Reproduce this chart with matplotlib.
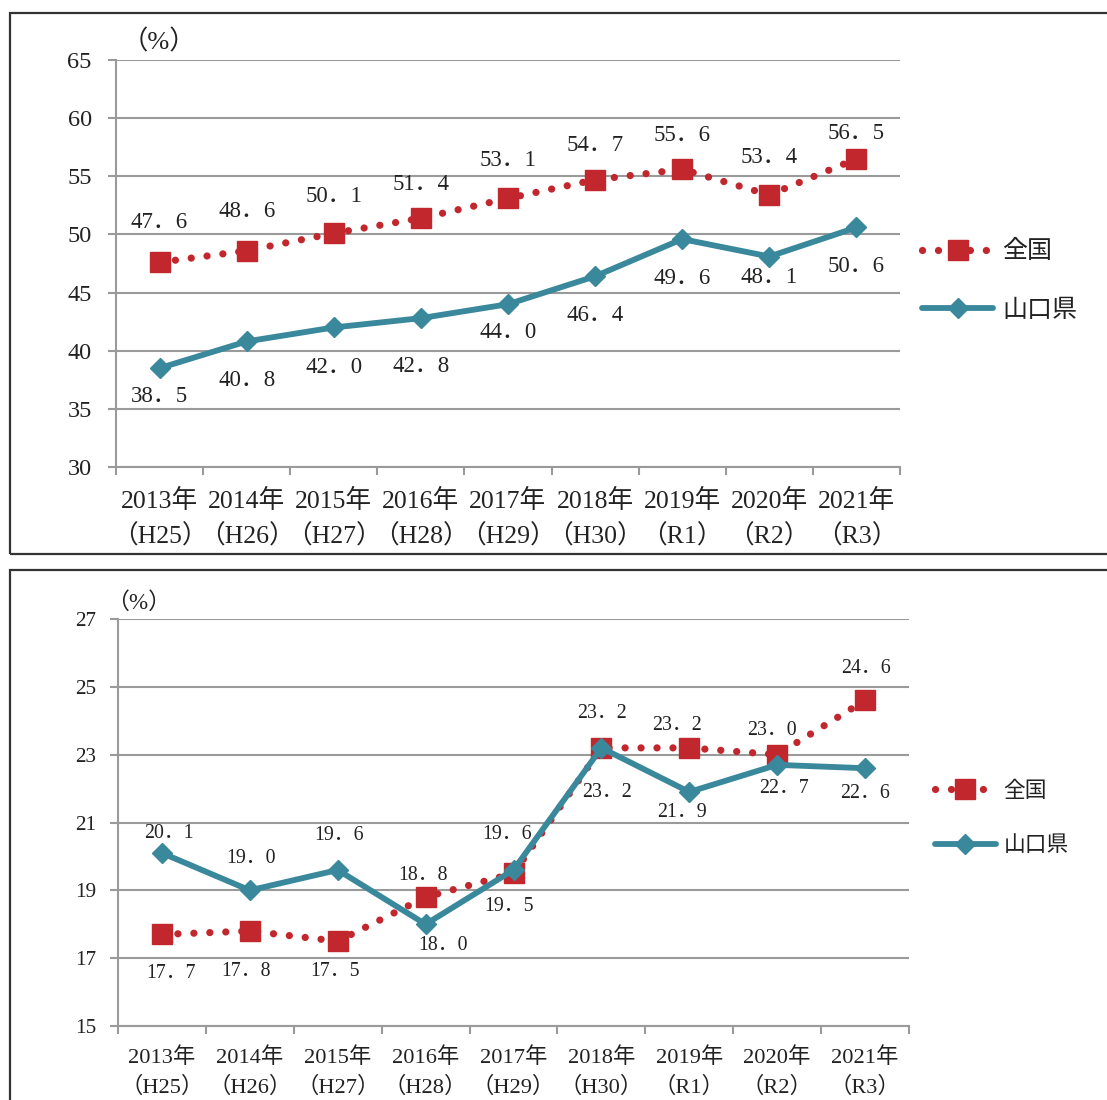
import matplotlib
matplotlib.use("Agg")
import matplotlib.pyplot as plt
from matplotlib.patches import Rectangle

plt.rcParams['font.family'] = ['Liberation Serif', 'Noto Sans CJK JP', 'DejaVu Sans']

# ---------------- data ----------------
years = ["2013年", "2014年", "2015年", "2016年", "2017年", "2018年", "2019年", "2020年", "2021年"]
eras = ["（H25）", "（H26）", "（H27）", "（H28）", "（H29）", "（H30）", "（R1）", "（R2）", "（R3）"]
series_names = ["全国", "山口県"]

top_national = [47.6, 48.6, 50.1, 51.4, 53.1, 54.7, 55.6, 53.4, 56.5]
top_yamaguchi = [38.5, 40.8, 42.0, 42.8, 44.0, 46.4, 49.6, 48.1, 50.6]

bot_national = [17.7, 17.8, 17.5, 18.8, 19.5, 23.2, 23.2, 23.0, 24.6]
bot_yamaguchi = [20.1, 19.0, 19.6, 18.0, 19.6, 23.2, 21.9, 22.7, 22.6]

# label offsets (pixels) for data labels
top_nat_off = [(0, 40), (0, 39), (0, 37), (0, 34), (0, 38), (0, 34), (0, 34), (0, 37), (0, 25)]
top_yam_off = [(0, -28), (0, -39), (0, -40), (0, -48), (0, -28), (0, -39), (0, -39), (0, -21), (0, -39)]
bot_nat_off = [(9, -39), (-4, -40), (-3, -30), (-3, 22), (-4, -33), (1, 34), (-12, 22), (-5, 24), (1, 32)]
bot_yam_off = [(7, 20), (1, 32), (1, 34), (17, -21), (-6, 35), (6, -45), (-7, -21), (7, -24), (0, -25)]

RED = "#C1272D"
TEAL = "#3A889B"
GRID = "#9A9A9A"
TXT = "#222222"

W, H = 1107, 1100
fig = plt.figure(figsize=(W / 100, H / 100), dpi=100)


def fx(px):
    return px / W


def fy(py):
    return 1 - py / H


# panel borders
fig.add_artist(Rectangle((fx(10), fy(554)), fx(1120) - fx(10), fy(13) - fy(554),
                         transform=fig.transFigure, fill=False, ec="#333333", lw=1.6))
fig.add_artist(Rectangle((fx(10), fy(1120)), fx(1120) - fx(10), fy(570) - fy(1120),
                         transform=fig.transFigure, fill=False, ec="#333333", lw=1.6))


def fmt(v):
    return f"{v:.1f}".replace(".", "．")


def panel(ax_box, nat, yam, nat_off, yam_off, ylim, ystep, sc, pct_xy, leg_xy,
          leg_handle_len, leg_spacing, xpad, xls):
    l, r, b, t = ax_box
    ax = fig.add_axes([fx(l), fy(b), fx(r) - fx(l), fy(t) - fy(b)])
    x = list(range(len(years)))
    ax.set_xlim(-0.5, len(years) - 0.5)
    ax.set_ylim(*ylim)
    yt = list(range(ylim[0], ylim[1] + 1, ystep))
    ax.set_yticks(yt)
    ax.set_yticklabels([str(v) for v in yt], fontsize=17.5 * sc)
    ax.yaxis.grid(True, color=GRID, lw=1.5)
    ax.set_axisbelow(True)
    # x ticks at boundaries, labels at centers
    ax.set_xticks([i - 0.5 for i in range(len(years) + 1)])
    ax.set_xticklabels([])
    ax.set_xticks(x, minor=True)
    ax.set_xticklabels([f"{y}\n{e}" for y, e in zip(years, eras)], minor=True,
                       fontsize=18.5 * sc, linespacing=xls)
    ax.tick_params(axis="x", which="minor", length=0, pad=xpad)
    ax.tick_params(axis="x", which="major", length=5.5, width=1.5, color=GRID)
    ax.tick_params(axis="y", length=5.5, width=1.5, color=GRID, pad=12 * sc, labelcolor=TXT)
    ax.tick_params(axis="x", labelcolor=TXT, which="both")
    for s in ["top", "right"]:
        ax.spines[s].set_visible(False)
    for s in ["left", "bottom"]:
        ax.spines[s].set_color(GRID)
        ax.spines[s].set_linewidth(1.5)

    ln1, = ax.plot(x, nat, color=RED, lw=5.2, linestyle=(0, (0.01, 2.2)), dash_capstyle="round",
                   marker="s", markersize=14.5, markerfacecolor=RED,
                   markeredgecolor=RED, label=series_names[0], zorder=3)
    ln2, = ax.plot(x, yam, color=TEAL, lw=4.2, solid_capstyle="round",
                   marker="D", markersize=10.5, markerfacecolor=TEAL, markeredgecolor=TEAL,
                   label=series_names[1], zorder=4)

    for xi, v, (dx, dy) in zip(x, nat, nat_off):
        ax.annotate(fmt(v), (xi, v), xytext=(dx, dy), textcoords="offset pixels",
                    ha="center", va="center", fontsize=16.5 * sc, color=TXT, zorder=5)
    for xi, v, (dx, dy) in zip(x, yam, yam_off):
        ax.annotate(fmt(v), (xi, v), xytext=(dx, dy), textcoords="offset pixels",
                    ha="center", va="center", fontsize=16.5 * sc, color=TXT, zorder=5)

    fig.text(fx(pct_xy[0]), fy(pct_xy[1]), "（%）", fontsize=19 * sc, ha="left", va="center",
             color=TXT)

    leg = fig.legend(handles=[ln1, ln2], loc="center left",
                     bbox_to_anchor=(fx(leg_xy[0]), fy(leg_xy[1])), bbox_transform=fig.transFigure,
                     frameon=False, borderpad=0, borderaxespad=0, handlelength=leg_handle_len,
                     handletextpad=0.35, labelspacing=leg_spacing, numpoints=1,
                     prop={"size": 18 * sc})
    for t_ in leg.get_texts():
        t_.set_color(TXT)
    return ax


panel((116, 900, 467, 60), top_national, top_yamaguchi, top_nat_off, top_yam_off,
      (30, 65), 5, 1.0, (122, 42), (922, 281), 2.85, 1.43, 15.5, 1.57)
panel((118, 909, 1026, 619), bot_national, bot_yamaguchi, bot_nat_off, bot_yam_off,
      (15, 27), 2, 0.87, (106, 603), (935, 819), 2.8, 1.57, 15, 1.56)

fig.savefig("out.png", dpi=100)
